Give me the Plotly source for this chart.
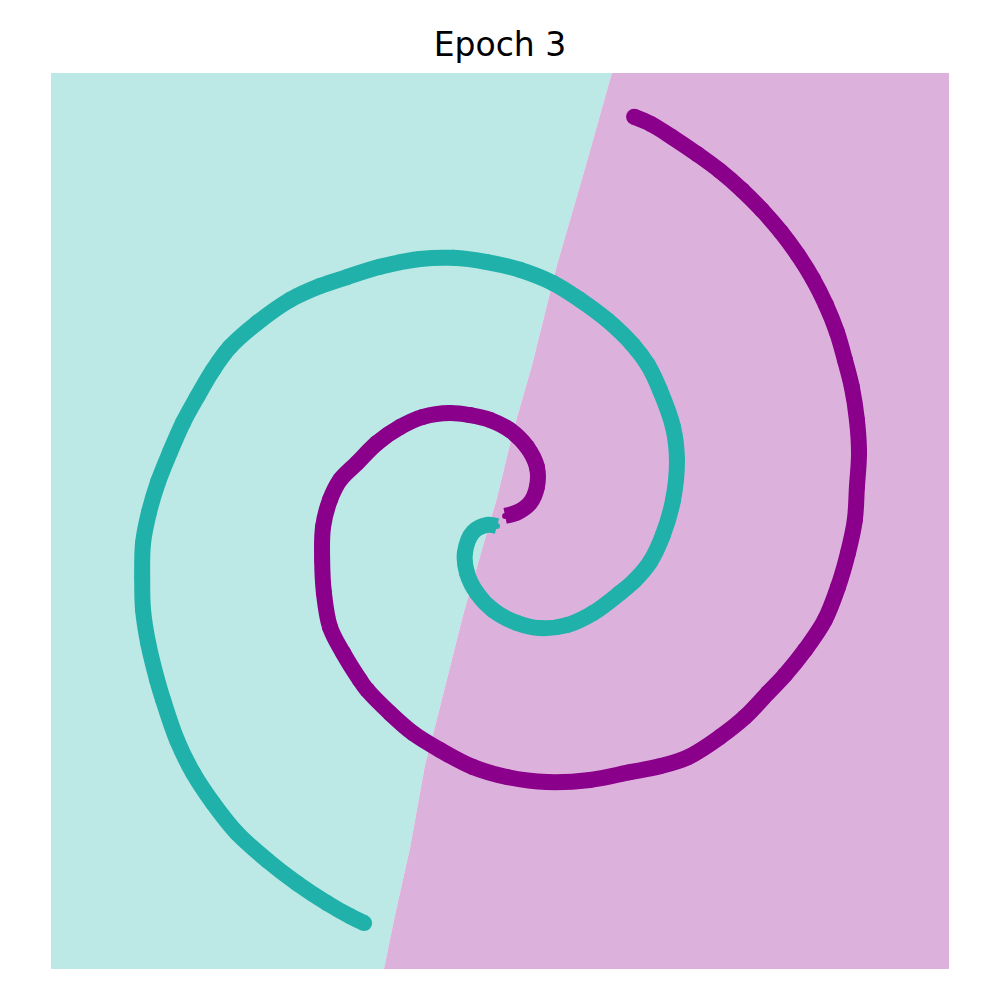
import plotly.graph_objects as go

# Spiral centre-lines (data units)
teal_x = [-0.10, -0.43, -0.90, -1.17, -1.10, -0.77, -0.23, 0.57, 1.33, 2.23, 3.10, 4.00, 4.50, 5.00, 5.43, 5.77, 5.90, 5.77, 5.33, 4.93,
          4.43, 3.57, 2.67, 1.77, 0.67, -0.43, -1.57, -2.67, -4.00, -5.10,
          -6.00, -7.00, -8.10, -9.00, -9.57, -10.10,
          -10.57, -11.00, -11.40, -11.70, -11.90, -11.93, -11.90, -11.73, -11.43,
          -11.23, -10.77, -10.23, -9.57, -8.77, -7.77, -6.77, -5.77, -5.00, -4.53]
teal_y = [-0.17, -0.13, -0.37, -1.07, -1.73, -2.40, -2.97, -3.40, -3.57, -3.47, -3.07, -2.40, -1.97, -1.37, -0.47, 0.70, 2.03, 3.13, 4.37, 5.20,
          5.87, 6.70, 7.37, 7.93, 8.37, 8.63, 8.77, 8.73, 8.47, 8.13,
          7.83, 7.37, 6.60, 5.80, 5.03, 4.13,
          3.27, 2.30, 1.30, 0.30, -0.73, -1.87, -2.97, -4.07, -5.30,
          -5.97, -7.30, -8.40, -9.40, -10.40, -11.30, -12.07, -12.73, -13.17, -13.40]

purple_x = [0.17, 0.60, 1.00, 1.23, 1.23, 0.90, 0.33, -0.33, -1.00, -1.67, -2.57, -3.33, -4.10, -4.77, -5.33, -5.67, -5.90, -5.93,
            -5.87, -5.67, -5.23, -4.67, -4.43, -3.67, -2.90, -2.00, -0.90, 0.23, 1.57, 3.00, 4.33, 5.33,
            6.27, 7.33, 8.17, 8.93, 9.50, 10.17, 10.83, 11.27, 11.60, 11.83, 11.90, 11.97, 11.90, 11.73,
            11.50, 11.23, 10.87, 10.43, 9.93, 9.37, 8.73, 8.07, 7.33, 6.57, 5.73, 5.03, 4.47]
purple_y = [0.17, 0.30, 0.60, 1.13, 1.80, 2.47, 3.03, 3.37, 3.53, 3.60, 3.47, 3.13, 2.60, 1.93, 1.37, 0.70, -0.20, -1.30,
            -2.40, -3.53, -4.40, -5.30, -5.63, -6.40, -7.07, -7.63, -8.20, -8.53, -8.70, -8.63, -8.37, -8.17,
            -7.87, -7.20, -6.53, -5.73, -5.13, -4.30, -3.30, -2.20, -1.07, 0.03, 1.13, 2.27, 3.37, 4.47,
            5.37, 6.30, 7.20, 8.07, 8.87, 9.63, 10.37, 11.03, 11.67, 12.23, 12.80, 13.23, 13.47]

# Decision boundary (top to bottom)
boundary_x = [3.73, 2.87, 1.90, 1.07, 0.43, -0.10, -1.23, -2.07, -2.50, -3.00, -3.50, -3.87]
boundary_y = [14.93, 11.87, 8.53, 5.20, 2.97, 0.77, -3.13, -6.47, -8.13, -10.90, -13.13, -14.93]

x_range = [-14.97, 14.97]
y_range = [-14.93, 14.93]

TEAL = "#20B2AA"
PURPLE = "#8B008B"
TEAL_BG = "#BCE8E5"
PURPLE_BG = "#DCB2DC"

fig = go.Figure()

# teal region: left edge + boundary
fig.add_trace(go.Scatter(
    x=[x_range[0]] + boundary_x + [x_range[0]],
    y=[y_range[1]] + boundary_y + [y_range[0]],
    fill="toself", fillcolor=TEAL_BG, mode="none", hoverinfo="skip", showlegend=False))
# purple region: boundary + right edge
fig.add_trace(go.Scatter(
    x=[x_range[1]] + boundary_x + [x_range[1]],
    y=[y_range[1]] + boundary_y + [y_range[0]],
    fill="toself", fillcolor=PURPLE_BG, mode="none", hoverinfo="skip", showlegend=False))

W = 16

def sizes(n):
    s = [W] * n
    s[0] = 6
    s[1] = 10
    s[2] = 13
    return s

for xs, ys, col in [(teal_x, teal_y, TEAL), (purple_x, purple_y, PURPLE)]:
    fig.add_trace(go.Scatter(x=xs, y=ys, mode="lines",
                             line=dict(color=col, width=W, shape="spline", smoothing=1.0),
                             hoverinfo="skip", showlegend=False))
    fig.add_trace(go.Scatter(x=xs, y=ys, mode="markers",
                             marker=dict(color=col, size=sizes(len(xs)), opacity=1, line=dict(width=0)),
                             hoverinfo="skip", showlegend=False))

fig.update_layout(
    width=1000, height=1000,
    margin=dict(l=43, r=59, t=65, b=39, pad=0),
    paper_bgcolor="white", plot_bgcolor="white",
    title=dict(text="Epoch 3", x=0.492, xref="container", xanchor="center",
               y=0.964, yref="container", yanchor="middle",
               font=dict(family="DejaVu Sans", size=33, color="black")),
    xaxis=dict(range=x_range, visible=False, showgrid=False, zeroline=False, fixedrange=True),
    yaxis=dict(range=y_range, visible=False, showgrid=False, zeroline=False, fixedrange=True),
)

fig.write_html("out.html")
